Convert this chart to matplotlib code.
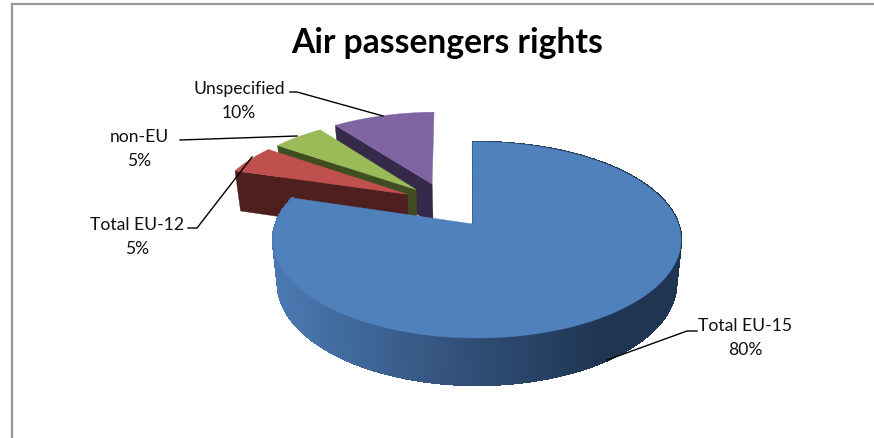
import numpy as np
import matplotlib
matplotlib.use("Agg")
import matplotlib.pyplot as plt
from matplotlib.collections import PolyCollection
from matplotlib.colors import to_rgb

# ---- data
categories = ["Total EU-15", "Total EU-12", "non-EU", "Unspecified"]
shares = [80, 5, 5, 10]
title = "Air passengers rights"

# ---- style / layout
top_colors = ["#4F81BD", "#C0504D", "#9BBB59", "#8064A2"]
side_colors = ["#1F3552", "#4D1F1E", "#3F4D20", "#352A4A"]
explode_dist = [0.0, 0.49, 0.50, 0.51]
explode_dir = [270, 312, 320, 332]
apex_nudge = [-0.02, 0.0, 0.0, 0.0]
FIRST_ANGLE = -1.4
W, H = 874, 439
CX, CY, RX, RY, TILT = 477, 241, 204, 98, 0.163

plt.rcParams["font.family"] = ["Lato", "DejaVu Sans"]
fig = plt.figure(figsize=(W / 100, H / 100), dpi=100)
ax = fig.add_axes([0, 0, 1, 1])
ax.set_xlim(0, W)
ax.set_ylim(H, 0)
ax.axis("off")


def project(x, y):
    """Physical pie-plane coordinates to canvas, with perspective."""
    x, y = np.asarray(x, float), np.asarray(y, float)
    d = 1 + TILT * y
    xp = x * np.sqrt(1 - TILT**2) / d
    yp = (y + TILT) / d
    return CX + RX * xp, CY - RY * yp


def drop(px, py):
    """Canvas point on the top face to the point under it on the bottom face."""
    return CX + (px - CX) * 0.977, py + 40 + (py - 168) * 7 / 171


def dirvec(deg):
    r = np.radians(deg)
    return np.sin(r), np.cos(r)


# slice boundaries, clockwise from 12 o'clock
edges = np.concatenate([[0], np.cumsum(shares)]) / np.sum(shares) * 360 + FIRST_ANGLE

# painter's order: back slices first, the big slice last
for i in [3, 2, 1, 0]:
    a0, a1 = edges[i], edges[i + 1]
    dx, dy = dirvec(explode_dir[i])
    ox, oy = explode_dist[i] * dx, explode_dist[i] * dy
    th = np.linspace(a0, a1, 480)
    sx, sy = dirvec(th)
    px, py = project(ox + sx, oy + sy)
    ax_, ay_ = project(ox + apex_nudge[i], oy)
    bx, by = drop(px, py)

    if i == 0:
        # curved outer wall with a horizontal shading
        qs, cs = [], []
        c_l, c_m, c_r = map(np.array, map(to_rgb, ["#4A79B2", "#2F4D74", "#1F3552"]))
        for k in range(len(th) - 1):
            xm = (px[k] + px[k + 1]) / 2
            if xm < CX:
                t = (xm - 273) / (CX - 273)
                col = c_l + (c_m - c_l) * t
            else:
                t = min((xm - CX) / 125, 1)
                col = c_m + (c_r - c_m) * t
            qs.append([(px[k], py[k]), (px[k + 1], py[k + 1]),
                       (bx[k + 1], by[k + 1]), (bx[k], by[k])])
            cs.append(col)
        ax.add_collection(PolyCollection(qs, facecolors=cs, edgecolors=cs,
                                         linewidths=1.0, antialiaseds=False,
                                         zorder=5))
        ax.plot([px[0], ax_], [py[0], ay_], color="#2A405E", lw=1.2, zorder=6)
    else:
        # cut face along the slice's first edge, facing the viewer
        bax, bay = drop(ax_, ay_)
        ax.fill([ax_, px[0], bx[0], bax], [ay_, py[0], by[0], bay],
                color=side_colors[i], lw=0.3, zorder=4 - i)

    ax.fill(np.r_[ax_, px], np.r_[ay_, py], color=top_colors[i], lw=0.3,
            zorder=6 if i == 0 else 4 - i + 0.5)

# frame
ax.plot([12, 12, W], [H, 5, 5], color="#989898", lw=1.6, zorder=1,
        solid_joinstyle="miter")

# title
ax.text(447.5, 43, title, ha="center", va="center", fontsize=24.2,
        fontweight="bold", color="black")

# labels
label_pos = [(745, 338), (137, 237), (139, 149), (239, 101)]
for name, val, (lx, ly) in zip(categories, shares, label_pos):
    ax.text(lx, ly, f"{name}\n{val}%", ha="center", va="center", fontsize=12.6,
            color="#111111", linespacing=1.58, zorder=10)

# leader lines
leaders = [
    ([697, 687, 607], [332, 332, 361]),
    ([188, 197, 252], [229, 229, 158]),
    ([180, 297], [141, 137]),
    ([290, 297, 383], [93, 93, 117]),
]
for xs, ys in leaders:
    ax.plot(xs, ys, color="black", lw=1.0, zorder=9)

fig.savefig("out.png", dpi=100)
